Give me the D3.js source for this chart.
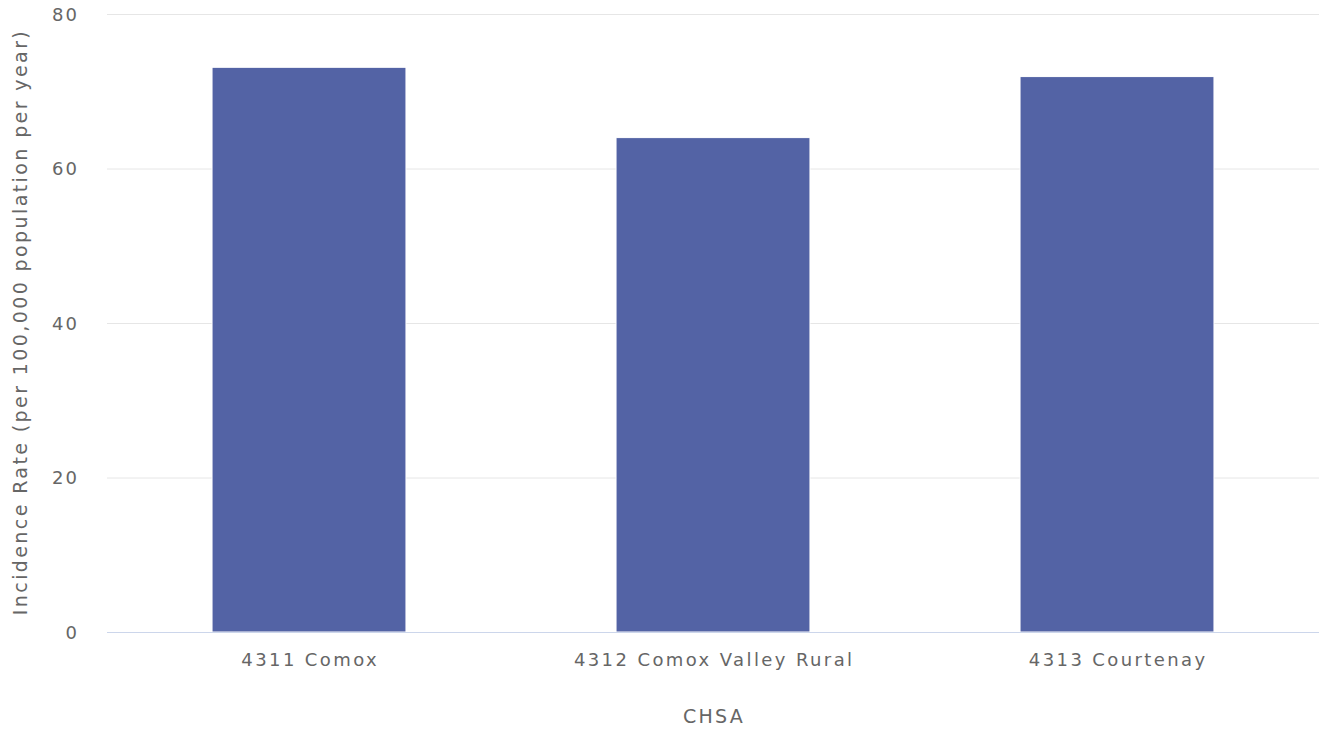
<!DOCTYPE html>
<html><head><meta charset="utf-8">
<script src="https://cdn.jsdelivr.net/npm/d3@7"></script>
<style>
html,body{margin:0;padding:0;background:#fff;}
text{font-family:"DejaVu Sans",Verdana,sans-serif;fill:#666666;}
</style></head>
<body><svg id="chart" width="1319" height="732"></svg>
<script>
const categories = ["4311 Comox", "4312 Comox Valley Rural", "4313 Courtenay"];
const values = [73.1, 64.0, 71.9];
const yTicks = [0, 20, 40, 60, 80];
const xTitle = "CHSA";
const yTitle = "Incidence Rate (per 100,000 population per year)";

const svg = d3.select("#chart");
const W = 1319, H = 732;
const m = {left:107, right:0, top:14, bottom:100};
const x = d3.scaleBand().domain(categories).range([m.left, W - m.right]).paddingInner(0.52).paddingOuter(0.26);
const y = d3.scaleLinear().domain([0, 80]).range([632, 14]);

// grid
svg.append("g").selectAll("line").data(yTicks.filter(d=>d>0)).join("line")
  .attr("x1", m.left).attr("x2", W).attr("y1", d=>y(d)+0.5).attr("y2", d=>y(d)+0.5)
  .attr("stroke", "#e6e6e6").attr("stroke-width", 1);

// bars
svg.append("g").selectAll("rect").data(values).join("rect")
  .attr("x", (d,i)=>x(categories[i]))
  .attr("width", x.bandwidth())
  .attr("y", d=>y(d))
  .attr("height", d=>y(0)-y(d))
  .attr("fill", "#5363a5")
  .attr("stroke", "#ffffff").attr("stroke-width", 1);

// x axis
const xAxis = d3.axisBottom(x).tickSize(0).tickPadding(21);
const gx = svg.append("g").attr("transform", `translate(0,${y(0)})`).call(xAxis);
gx.select(".domain").attr("stroke", "#ccd6eb").attr("d", `M${m.left},0.5H${W}`);
gx.selectAll("text").attr("font-size", 18).attr("letter-spacing", "2.4px").attr("dx", "1.2px")
  .style("font-family", '"DejaVu Sans",sans-serif').attr("fill", "#666666");

// y axis
const yAxis = d3.axisLeft(y).tickValues(yTicks).tickSize(0).tickPadding(28);
const gy = svg.append("g").attr("transform", `translate(${m.left},0)`).call(yAxis);
gy.select(".domain").remove();
gy.selectAll("text").attr("font-size", 18).attr("letter-spacing", "2px").attr("dy", "0.35em")
  .style("font-family", '"DejaVu Sans",sans-serif').attr("fill", "#666666");

// titles
svg.append("text").attr("x", (m.left + W)/2 + 1).attr("y", 723).attr("text-anchor", "middle")
  .attr("font-size", 19).attr("letter-spacing", "2.3px").text(xTitle);
svg.append("text").attr("transform", `translate(27,${(14+632)/2 - 1}) rotate(-90)`).attr("text-anchor", "middle")
  .attr("font-size", 19).attr("letter-spacing", "2.4px").text(yTitle);
</script></body></html>
